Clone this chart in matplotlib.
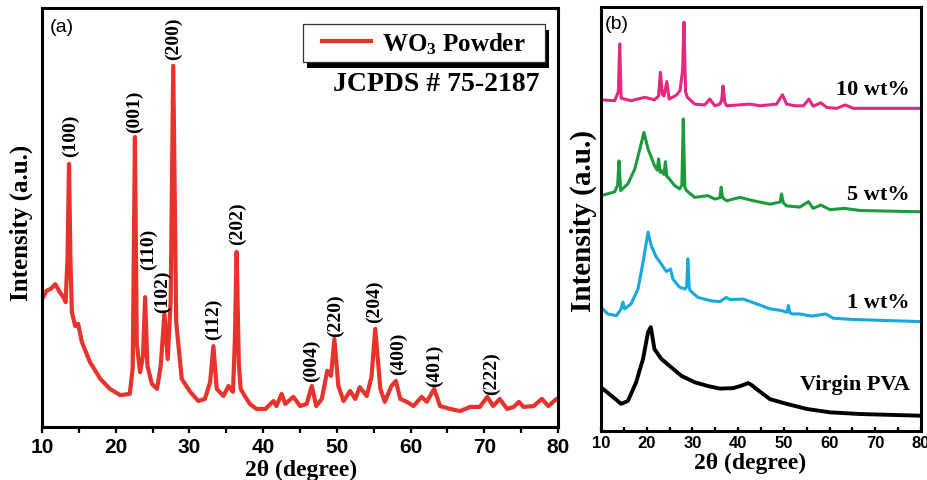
import matplotlib
matplotlib.use('Agg')
import matplotlib.pyplot as plt
from matplotlib.patches import Rectangle
from matplotlib.ticker import MultipleLocator

plt.rcParams['font.family'] = 'Liberation Serif'
plt.rcParams['mathtext.fontset'] = 'custom'
plt.rcParams['mathtext.rm'] = 'Liberation Serif:bold'
plt.rcParams['mathtext.it'] = 'Liberation Serif:bold'
plt.rcParams['mathtext.bf'] = 'Liberation Serif:bold'

# (a) WO3 powder pattern
wo3_2theta = [10.0, 10.6, 11.2, 11.8, 12.4, 12.9, 13.2, 13.45, 13.66, 13.85,
              14.05, 14.5, 14.9, 15.4, 16.5, 17.9, 19.2, 20.6, 21.9, 22.3,
              22.6, 22.85, 23.3, 23.7, 23.98, 24.3, 24.9, 25.6, 26.1, 26.6,
              27.05, 27.45, 27.8, 28.2, 28.95, 30.1, 31.2, 32.1, 32.8, 33.25,
              33.7, 34.6, 35.3, 35.9, 36.15, 36.4, 36.7, 36.95, 37.5, 38.2,
              39.1, 40.3, 41.4, 41.8, 42.5, 43.0, 44.1, 45.0, 45.9, 46.6,
              47.2, 47.95, 48.7, 49.2, 49.66, 50.2, 50.9, 51.8, 52.5, 53.1,
              54.05, 54.7, 55.2, 55.9, 56.5, 57.4, 58.0, 58.6, 59.5, 60.4,
              61.5, 62.2, 63.2, 64.0, 65.4, 66.7, 68.1, 69.4, 70.4, 71.2,
              72.1, 73.1, 74.0, 74.7, 75.3, 76.7, 77.8, 78.7, 79.8, 80.0]
wo3_int = [30.5, 32.5, 33.0, 34.1, 32.2, 31.0, 29.8, 40.0, 62.8, 40.0,
           27.4, 24.1, 24.6, 20.3, 15.5, 11.5, 9.1, 7.6, 7.9, 14.0,
           69.2, 20.0, 13.1, 17.0, 31.0, 14.6, 10.3, 9.1, 14.6, 27.0,
           16.2, 30.0, 86.2, 25.0, 11.5, 8.4, 6.2, 6.7, 10.7, 19.3,
           9.1, 7.4, 9.8, 8.4, 20.0, 41.8, 15.0, 9.1, 7.4, 5.5,
           4.3, 4.3, 6.2, 5.0, 7.9, 5.5, 7.2, 5.0, 5.5, 9.8,
           5.0, 6.7, 13.4, 12.2, 21.0, 9.8, 6.2, 8.6, 6.7, 9.5,
           7.4, 12.0, 23.4, 9.1, 6.0, 9.8, 11.0, 6.7, 6.0, 5.0,
           7.2, 6.0, 9.1, 5.0, 4.3, 3.8, 4.8, 4.8, 7.2, 5.0,
           6.7, 4.3, 4.8, 6.0, 4.8, 5.0, 6.7, 5.0, 6.7, 6.5]

# Miller indices and where their tags sit (2theta, intensity at tag foot)
hkl = ['(100)', '(001)', '(110)', '(102)', '(200)', '(112)', '(202)',
       '(004)', '(220)', '(204)', '(400)', '(401)', '(222)']
hkl_2theta = [13.8, 22.6, 24.4, 26.3, 27.8, 33.2, 36.5,
              46.6, 49.8, 55.1, 58.3, 63.3, 71.0]
hkl_tag_y = [64.7, 70.4, 37.7, 27.4, 87.8, 21.0, 43.7,
             11.0, 21.7, 25.1, 12.6, 9.8, 7.9]

# (b) PVA / WO3 films
wt10_2theta = [10.0, 13.0, 13.8, 14.1, 14.4, 16.6, 19.6, 21.7, 22.6, 23.0,
               23.4, 23.8, 24.4, 24.9, 26.5, 27.3, 27.85, 28.16, 28.5, 28.9,
               30.5, 32.7, 33.8, 34.9, 36.0, 36.4, 36.7, 37.1, 37.5, 42.6,
               44.8, 48.4, 49.7, 50.6, 52.4, 54.3, 55.5, 56.4, 58.1, 59.4,
               61.6, 63.4, 65.2, 72.5, 80.0]
wt10_int = [78.1, 77.9, 80.0, 91.3, 78.5, 77.9, 78.7, 78.1, 79.0, 84.6,
            79.5, 79.0, 82.4, 78.3, 79.2, 80.3, 85.0, 96.4, 80.0, 78.7,
            77.1, 76.9, 78.3, 76.7, 77.1, 78.0, 81.4, 77.5, 76.7, 77.1,
            76.7, 77.1, 79.3, 77.1, 76.7, 76.7, 78.3, 76.6, 77.4, 76.3,
            76.1, 76.9, 76.1, 76.1, 76.1]

wt5_2theta = [10.0, 13.0, 13.65, 13.94, 14.3, 15.9, 17.4, 18.5, 19.4, 20.3,
              21.7, 22.3, 22.6, 22.95, 23.2, 23.8, 24.1, 24.4, 24.7, 26.1,
              27.2, 27.7, 28.0, 28.35, 28.7, 30.5, 33.4, 34.9, 36.0, 36.3,
              36.6, 37.5, 40.4, 43.3, 47.0, 49.2, 49.5, 49.9, 50.6, 53.5,
              55.4, 56.4, 58.1, 60.1, 63.2, 66.7, 80.0]
wt5_int = [55.5, 56.4, 58.0, 63.7, 56.7, 58.3, 61.8, 66.5, 70.4, 66.5,
           62.6, 61.5, 64.2, 61.0, 61.4, 60.5, 63.5, 60.0, 59.8, 57.9,
           57.1, 58.0, 73.6, 57.5, 56.7, 55.1, 55.5, 54.7, 55.0, 57.5,
           55.0, 54.3, 55.1, 54.3, 53.5, 54.0, 55.9, 53.8, 53.1, 52.8,
           54.1, 52.5, 53.3, 52.2, 52.5, 52.0, 51.7]

wt1_2theta = [10.0, 11.5, 13.4, 14.4, 14.8, 15.2, 16.6, 18.1, 19.2, 20.3,
              21.0, 22.1, 23.2, 24.3, 25.2, 25.75, 27.2, 28.4, 28.75, 29.0,
              29.3, 29.5, 31.2, 34.1, 36.0, 37.4, 38.2, 41.1, 44.0, 47.0,
              49.5, 50.7, 51.0, 51.3, 51.7, 53.5, 56.1, 59.2, 60.8, 65.2,
              80.0]
wt1_int = [29.2, 27.6, 27.2, 28.8, 30.4, 28.8, 30.0, 33.5, 39.8, 46.9,
           43.7, 41.0, 39.4, 37.6, 38.2, 35.8, 33.9, 33.5, 34.0, 40.6,
           34.0, 33.1, 31.5, 30.7, 30.5, 31.5, 31.0, 31.1, 30.0, 28.8,
           28.4, 28.0, 29.6, 28.0, 27.6, 27.6, 27.1, 27.6, 26.6, 26.3,
           25.8]

pva_2theta = [10.0, 12.3, 14.4, 15.9, 17.7, 19.2, 20.3, 20.9, 21.7, 23.2,
              25.4, 27.6, 30.5, 33.4, 36.0, 38.9, 40.5, 42.2, 43.0, 44.0,
              47.0, 50.6, 55.0, 60.1, 66.7, 80.0]
pva_int = [10.3, 8.3, 6.4, 7.1, 11.5, 17.0, 23.3, 24.5, 19.3, 17.0,
           15.0, 13.0, 11.5, 10.6, 10.0, 10.1, 10.6, 11.3, 10.8, 9.9,
           7.5, 6.4, 5.2, 4.4, 4.0, 3.6]

film_names = ['10 wt%', '5 wt%', '1 wt%', 'Virgin PVA']
film_tag_y = [80.7, 55.9, 30.4, 11.1]


def style_axes(ax, tick_size, direction, length):
    for sp in ax.spines.values():
        sp.set_linewidth(2.2)
    ax.set_xlim(10, 80)
    ax.set_ylim(0, 100)
    ax.set_yticks([])
    ax.xaxis.set_major_locator(MultipleLocator(10))
    ax.xaxis.set_minor_locator(MultipleLocator(5))
    ax.tick_params(axis='x', which='both', direction=direction, length=length,
                   width=1.6, labelsize=tick_size, pad=3)
    for lab in ax.get_xticklabels():
        lab.set_fontfamily('Liberation Sans')
        lab.set_fontweight('bold')


fig = plt.figure(figsize=(9.28, 4.81), dpi=100)
ax_a = fig.add_axes([0.0453, 0.1102, 0.556, 0.871])
ax_b = fig.add_axes([0.6476, 0.1019, 0.3448, 0.8815])

# ---- panel (a)
ax_a.plot(wo3_2theta, wo3_int, color='#e8322c', lw=3, label='WO$_3$ Powder',
          solid_joinstyle='round')
style_axes(ax_a, 15, 'out', 4)
for name, x, y in zip(hkl, hkl_2theta, hkl_tag_y):
    ax_a.text(x, y, name, rotation=90, ha='center', va='bottom',
              fontsize=14, fontweight='bold')

# legend box with a hard black drop shadow
ax_a.add_patch(Rectangle((0.514, 0.857), 0.469, 0.091, transform=ax_a.transAxes,
                         facecolor='black', edgecolor='none', zorder=4))
ax_a.add_patch(Rectangle((0.506, 0.871), 0.469, 0.091, transform=ax_a.transAxes,
                         facecolor='white', edgecolor='#333333', lw=0.9, zorder=5))
leg = ax_a.legend(loc='center', bbox_to_anchor=(0.7405, 0.9165),
                  borderaxespad=0, frameon=False,
                  prop={'family': 'Liberation Serif', 'weight': 'bold', 'size': 18},
                  handlelength=1.96, handletextpad=0.44, borderpad=0)
leg.set_zorder(6)

ax_a.text(0.965, 0.819, 'JCPDS # 75-2187', transform=ax_a.transAxes,
          ha='right', va='center', fontsize=20, fontweight='bold')
ax_a.text(0.014, 0.957, '(a)', transform=ax_a.transAxes, ha='left', va='center',
          fontsize=14, family='Liberation Sans')
ax_a.set_xlabel('2θ (degree)', fontsize=17, fontweight='bold')
ax_a.xaxis.set_label_coords(0.502, -0.076)
ax_a.set_ylabel('Intensity (a.u.)', fontsize=18, fontweight='bold')
ax_a.yaxis.set_label_coords(-0.017, 0.49)

# ---- panel (b)
ax_b.plot(wt10_2theta, wt10_int, color='#e5287f', lw=2.2)
ax_b.plot(wt5_2theta, wt5_int, color='#1d9a3c', lw=2.2)
ax_b.plot(wt1_2theta, wt1_int, color='#17a8df', lw=2.2)
ax_b.plot(pva_2theta, pva_int, color='black', lw=2.8)
style_axes(ax_b, 12, 'in', 3)
for name, y in zip(film_names, film_tag_y):
    ax_b.text(77.6, y, name, ha='right', va='center', fontsize=16,
              fontweight='bold')
ax_b.text(0.0125, 0.96, '(b)', transform=ax_b.transAxes, ha='left',
          va='center', fontsize=14, family='Liberation Sans')
ax_b.set_xlabel('2θ (degree)', fontsize=17, fontweight='bold')
ax_b.xaxis.set_label_coords(0.466, -0.05)
ax_b.set_ylabel('Intensity (a.u.)', fontsize=21, fontweight='bold')
ax_b.yaxis.set_label_coords(-0.0125, 0.498)

fig.savefig('out.png', dpi=100)
